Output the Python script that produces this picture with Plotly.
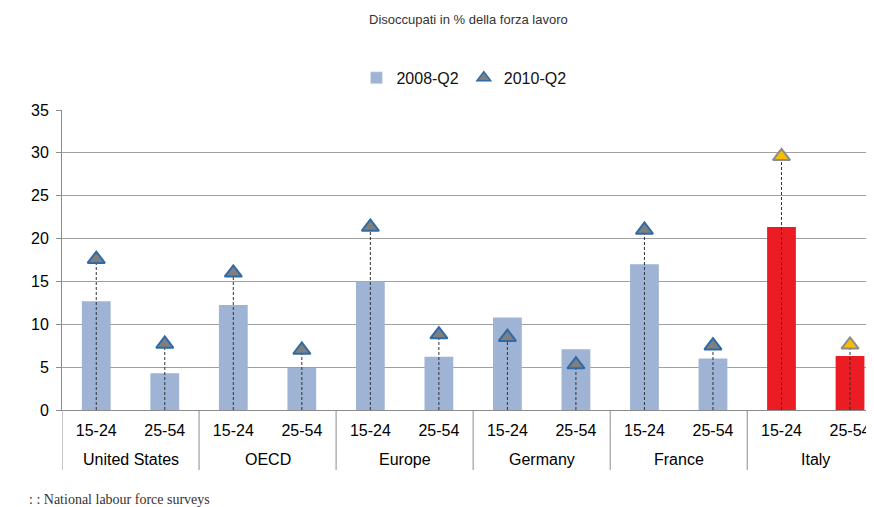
import plotly.graph_objects as go

groups = ["United States", "United States", "OECD", "OECD", "Europe", "Europe",
          "Germany", "Germany", "France", "France", "Italy", "Italy"]
ages = ["15-24", "25-54"] * 6
v2008 = [12.7, 4.3, 12.25, 4.9, 15.0, 6.2, 10.8, 7.1, 17.0, 6.0, 21.35, 6.3]
v2010 = [17.6, 7.7, 16.0, 7.0, 21.35, 8.8, 8.5, 5.3, 21.0, 7.5, 29.6, 7.6]
y_ticks = [0, 5, 10, 15, 20, 25, 30, 35]

BLUE = "#9fb3d4"
RED = "#ec1c24"
TRI_FILL = "#7f7f7f"
TRI_LINE = "#2f6aa6"
YEL_FILL = "#f7bd00"
YEL_LINE = "#8c8c8c"
AXIS = "#8c8c8c"
GRID = "#a0a0a0"

idx = list(range(len(ages)))
bar_colors = [RED if g == "Italy" else BLUE for g in groups]
tri_fill = [YEL_FILL if g == "Italy" else TRI_FILL for g in groups]
tri_line = [YEL_LINE if g == "Italy" else TRI_LINE for g in groups]

fig = go.Figure()
fig.add_trace(go.Bar(
    x=idx, y=v2008, name="2008-Q2",
    marker=dict(color=bar_colors, line=dict(width=0)),
    width=0.42, showlegend=False,
))
# drop lines from 0 to the 2010 value
drop_x, drop_y = [], []
for i, v in zip(idx, v2010):
    drop_x += [i, i, None]
    drop_y += [0, v, None]
fig.add_trace(go.Scatter(
    x=drop_x, y=drop_y, mode="lines",
    line=dict(color="#333333", width=1, dash="3px,2px"),
    showlegend=False, hoverinfo="skip",
))
fig.add_trace(go.Scatter(
    x=idx, y=v2010, name="2010-Q2", mode="markers",
    marker=dict(symbol="triangle-up", size=15, color=tri_fill,
                line=dict(color=tri_line, width=2)),
    showlegend=False,
))
# legend entries
fig.add_trace(go.Bar(x=[0], y=[None], name="2008-Q2",
                     marker=dict(color=BLUE), showlegend=True))
fig.add_trace(go.Scatter(x=[0], y=[None], name="2010-Q2", mode="markers",
                         marker=dict(symbol="triangle-up", size=12, color=TRI_FILL,
                                     line=dict(color=TRI_LINE, width=1.5)),
                         showlegend=True))

# group labels and dividers
annotations = []
shapes = []
order = []
for g in groups:
    if g not in order:
        order.append(g)
for g in order:
    members = [i for i, gg in zip(idx, groups) if gg == g]
    annotations.append(dict(text=g, x=sum(members) / len(members), xref="x",
                            y=-49 / 300, yref="paper", yanchor="middle",
                            showarrow=False, font=dict(size=16, color="#000")))
    left = min(members) - 0.5
    shapes.append(dict(type="line", xref="x", yref="paper", x0=left, x1=left,
                       y0=0, y1=-60 / 300, line=dict(color=AXIS, width=1)))

annotations.append(dict(text="Disoccupati in % della forza lavoro", xref="paper",
                        yref="paper", x=(468 - 62) / 812, y=(410 - 20) / 300,
                        xanchor="center", yanchor="middle", showarrow=False,
                        font=dict(size=13, color="#333")))
annotations.append(dict(text=": : National labour force surveys", xref="paper",
                        yref="paper", x=(212 - 62) / 812, xanchor="right",
                        y=-89 / 300, yanchor="middle", showarrow=False,
                        font=dict(family="Liberation Serif, Times New Roman, serif",
                                  size=14, color="#333")))

# the page body adds an 8px margin, so the figure is 8px smaller than the window
fig.update_layout(
    width=866, height=499,
    margin=dict(l=54, r=0, t=102, b=97),
    paper_bgcolor="white", plot_bgcolor="white",
    barmode="overlay",
    font=dict(family="Liberation Sans, Arial, sans-serif", size=14, color="#111"),
    legend=dict(orientation="h", x=0.495, xanchor="center", y=1.107, yanchor="middle",
                font=dict(size=16, color="#111"), itemwidth=30, traceorder="normal"),
    annotations=annotations,
    shapes=shapes,
)
fig.update_yaxes(range=[0, 35], tickvals=y_ticks, showgrid=True, gridcolor=GRID,
                 gridwidth=1, showline=True, linecolor=AXIS, linewidth=1,
                 ticks="outside", ticklen=5, tickcolor=AXIS, zeroline=False,
                 tickfont=dict(size=16, color="#000"), automargin=False,
                 ticklabelstandoff=4)
fig.update_xaxes(range=[-0.5, 11.35], tickvals=idx, ticktext=ages, showline=True,
                 linecolor=AXIS, linewidth=1, showgrid=False, zeroline=False,
                 tickfont=dict(size=16, color="#000"), ticks="", automargin=False,
                 ticklabelstandoff=6)

fig.write_html("out.html")
